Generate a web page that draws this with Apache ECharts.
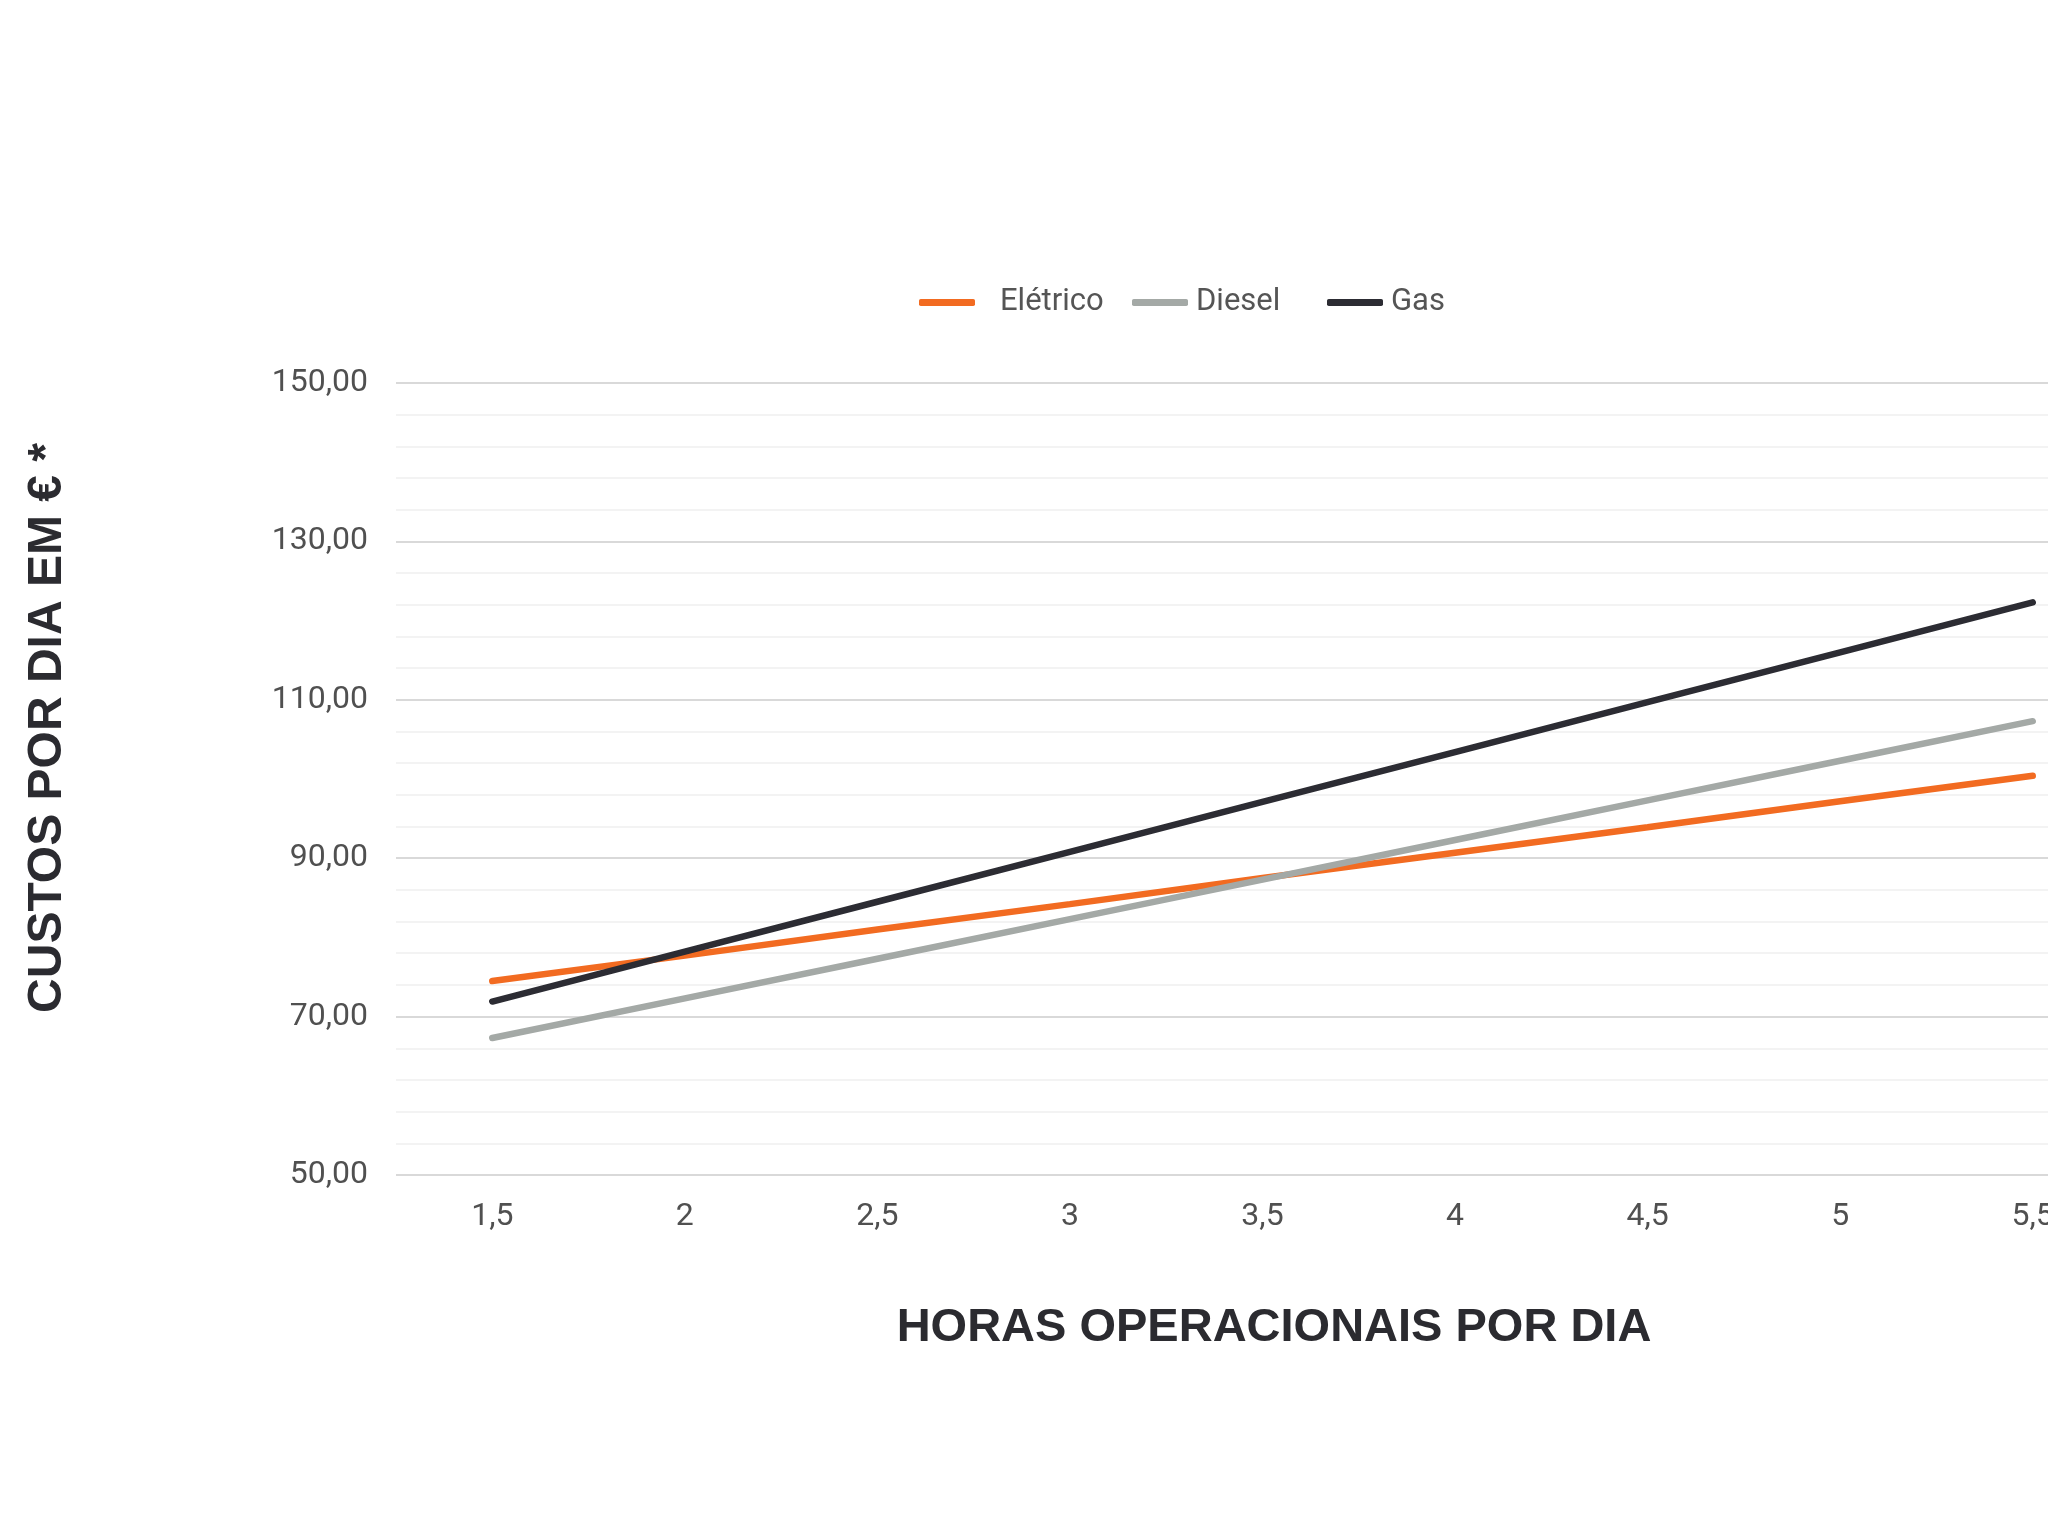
<!DOCTYPE html>
<html>
<head>
<meta charset="utf-8">
<script src="https://cdn.jsdelivr.net/npm/echarts@6/dist/echarts.min.js"></script>
<style>
  html, body { margin:0; padding:0; background:#fff; overflow:hidden; }
  #chart { width:2200px; height:1536px; }
</style>
</head>
<body>
<div id="chart"></div>
<script>
// horas operacionais por dia
var horas = ['1,5', '2', '2,5', '3', '3,5', '4', '4,5', '5', '5,5'];
// custos por dia em euro
var eletrico = [74.5, 77.7, 81.0, 84.2, 87.5, 90.7, 93.9, 97.2, 100.4];
var diesel   = [67.3, 72.3, 77.3, 82.3, 87.3, 92.3, 97.3, 102.3, 107.3];
var gas      = [71.9, 78.2, 84.5, 90.8, 97.1, 103.4, 109.7, 116.0, 122.3];
var serieNames = ['Elétrico', 'Diesel', 'Gas'];
var serieColors = ['#f26b21', '#a4a9a6', '#2c2c33'];

var labelFont = "'Roboto', 'Liberation Sans', sans-serif";
var titleFont = "'Liberation Sans', sans-serif";

var myChart = echarts.init(document.getElementById('chart'));

function makeSerie(i, data){
    return {
        name: serieNames[i],
        type: 'line',
        data: data,
        symbol: 'none',
        smooth: false,
        lineStyle: { width: 6.5, color: serieColors[i], cap: 'round' },
        itemStyle: { color: serieColors[i] }
    };
}

// one legend per item so each sits where the reference has it
var legendLeft = [914, 1127, 1322];
var legendPad = [20, 3, 3];
var legends = [];
for (var i = 0; i < serieNames.length; i++) {
    legends.push({
        show: true,
        left: legendLeft[i],
        top: 282,
        itemWidth: 56,
        itemHeight: 7,
        icon: 'roundRect',
        data: [serieNames[i]],
        selectedMode: false,
        textStyle: {
            color: '#555555',
            fontSize: 31,
            fontFamily: labelFont,
            padding: [0, 0, 0, legendPad[i]]
        }
    });
}

var option = {
    backgroundColor: '#ffffff',
    animation: false,
    legend: legends,
    grid: {
        left: 396,
        top: 383,
        width: 1733,
        height: 792
    },
    xAxis: {
        type: 'category',
        data: horas,
        boundaryGap: true,
        axisLine: { show: false },
        axisTick: { show: false },
        axisLabel: {
            color: '#505050',
            fontSize: 32,
            fontFamily: labelFont,
            margin: 26
        }
    },
    yAxis: {
        type: 'value',
        min: 50,
        max: 150,
        interval: 20,
        axisLine: { show: false },
        axisTick: { show: false },
        axisLabel: {
            color: '#505050',
            fontSize: 32,
            fontFamily: labelFont,
            margin: 28,
            formatter: function (v) { return v.toFixed(2).replace('.', ','); }
        },
        splitLine: { show: true, lineStyle: { color: '#d9d9d9', width: 2 } },
        minorTick: { show: false, splitNumber: 5 },
        minorSplitLine: { show: true, lineStyle: { color: '#efefef', width: 1.5 } }
    },
    graphic: [
        {
            type: 'text',
            x: 1274,
            y: 1328,
            style: {
                text: 'HORAS OPERACIONAIS POR DIA',
                fill: '#2b2b30',
                font: 'bold 47px ' + titleFont,
                align: 'center',
                verticalAlign: 'middle'
            }
        },
        {
            type: 'text',
            rotation: Math.PI / 2,
            x: 48,
            y: 728,
            style: {
                text: 'CUSTOS POR DIA EM € *',
                fill: '#2b2b30',
                font: 'bold 48px ' + titleFont,
                align: 'center',
                verticalAlign: 'middle'
            }
        }
    ],
    series: [
        makeSerie(0, eletrico),
        makeSerie(1, diesel),
        makeSerie(2, gas)
    ]
};
myChart.setOption(option);
</script>
</body>
</html>
